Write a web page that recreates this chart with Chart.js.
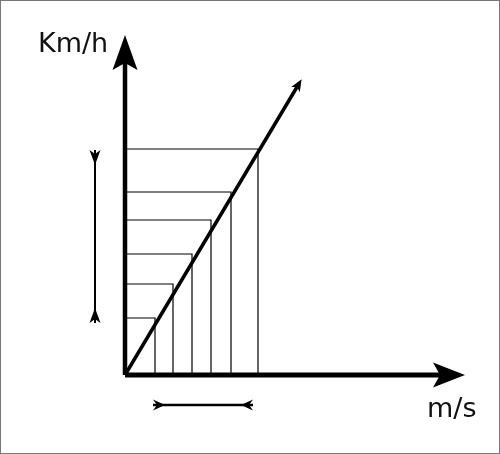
<!DOCTYPE html>
<html>
<head>
<meta charset="utf-8">
<script src="https://cdn.jsdelivr.net/npm/chart.js@4/dist/chart.umd.min.js"></script>
<style>
  html, body { margin: 0; padding: 0; background: #fff; }
  #wrap { position: relative; width: 500px; height: 454px; }
  #frame { position: absolute; left: 0; top: 0; right: 0; bottom: 0; border: 1px solid #777; pointer-events: none; }
</style>
</head>
<body>
<div id="wrap">
  <canvas id="graphCanvas" width="500" height="454"></canvas>
  <div id="frame"></div>
</div>
<script>
// speed steps (x in m/s, y in km/h)
const speedMs = [3.0, 4.8, 6.7, 8.6, 10.6, 13.3];
const speedKmh = [11.4, 18.2, 24.2, 31.0, 36.6, 45.2];

// the conversion line, axes and the two span markers
const convLine = [{x: 0, y: 0}, {x: 17.2, y: 57.6}];
const xAxisLine = [{x: 0, y: 0}, {x: 31.5, y: 0}];
const yAxisLine = [{x: 0, y: 0}, {x: 0, y: 62.4}];
const spanKmh = [{x: -3.0, y: 10.4}, {x: -3.0, y: 45.0}];
const spanMs = [{x: 2.8, y: -6.0}, {x: 12.8, y: -6.0}];

const xLabel = 'm/s';
const yLabel = 'Km/h';

// guide lines: from the y axis to the line, then down to the x axis
let guides = [];
for (let i = 0; i < speedMs.length; i++) {
    guides.push({x: 0, y: speedKmh[i]});
    guides.push({x: speedMs[i], y: speedKmh[i]});
    guides.push({x: speedMs[i], y: 0});
    guides.push({x: null, y: null});
}

function drawHead(ctx, tx, ty, dx, dy, len, wid, notch) {
    let nx = -dy, ny = dx;
    let bx = tx - dx * len, by = ty - dy * len;
    ctx.beginPath();
    ctx.moveTo(tx, ty);
    ctx.lineTo(bx + nx * wid / 2, by + ny * wid / 2);
    ctx.lineTo(tx - dx * (len - notch), ty - dy * (len - notch));
    ctx.lineTo(bx - nx * wid / 2, by - ny * wid / 2);
    ctx.closePath();
    ctx.fill();
}

// arrow heads: "end" puts the notch on the last point, "inward" puts the base on each end
const arrowPlugin = {
    id: 'arrows',
    afterDatasetsDraw(chart) {
        const ctx = chart.ctx;
        ctx.save();
        ctx.fillStyle = '#000';
        chart.data.datasets.forEach(function (ds, i) {
            if (!ds.arrow) return;
            const pts = chart.getDatasetMeta(i).data;
            const a = pts[0], b = pts[pts.length - 1];
            let dx = b.x - a.x, dy = b.y - a.y;
            const d = Math.sqrt(dx * dx + dy * dy);
            dx /= d; dy /= d;
            const h = ds.arrow;
            if (h.type === 'end') {
                const adv = h.len - h.notch;
                drawHead(ctx, b.x + dx * adv, b.y + dy * adv, dx, dy, h.len, h.wid, h.notch);
            } else {
                drawHead(ctx, a.x + dx * h.len, a.y + dy * h.len, dx, dy, h.len, h.wid, h.notch);
                drawHead(ctx, b.x - dx * h.len, b.y - dy * h.len, -dx, -dy, h.len, h.wid, h.notch);
            }
        });
        ctx.restore();
    }
};

const labelPlugin = {
    id: 'axisLabels',
    afterDraw(chart) {
        const ctx = chart.ctx;
        ctx.save();
        ctx.fillStyle = '#111';
        ctx.font = '27px "DejaVu Sans"';
        ctx.textBaseline = 'alphabetic';
        ctx.textAlign = 'left';
        ctx.fillText(yLabel, 38, 52);
        ctx.fillText(xLabel, 427, 417);
        ctx.restore();
    }
};

function lineSet(data, width, color, arrow) {
    return {
        data: data,
        showLine: true,
        borderColor: color,
        borderWidth: width,
        pointRadius: 0,
        spanGaps: false,
        borderCapStyle: 'butt',
        arrow: arrow
    };
}

let graphTarget = document.getElementById('graphCanvas');
var chart = new Chart(graphTarget, {
    type: 'scatter',
    data: {
        datasets: [
            lineSet(guides, 1.2, '#000', null),
            lineSet(convLine, 3.5, '#000', {type: 'end', len: 12, wid: 10, notch: 3}),
            lineSet(spanKmh, 2, '#000', {type: 'inward', len: 15, wid: 11, notch: 4}),
            lineSet(spanMs, 2.5, '#000', {type: 'inward', len: 12, wid: 11, notch: 4}),
            lineSet(xAxisLine, 5, '#000', {type: 'end', len: 32, wid: 25, notch: 7}),
            lineSet(yAxisLine, 4.5, '#000', {type: 'end', len: 35, wid: 25, notch: 7})
        ]
    },
    options: {
        responsive: false,
        animation: false,
        layout: {padding: 0},
        plugins: {
            legend: {display: false},
            tooltip: {enabled: false}
        },
        scales: {
            x: {type: 'linear', display: false, min: -12.5, max: 37.5},
            y: {type: 'linear', display: false, min: -15.8, max: 75}
        }
    },
    plugins: [arrowPlugin, labelPlugin]
});
</script>
</body>
</html>
